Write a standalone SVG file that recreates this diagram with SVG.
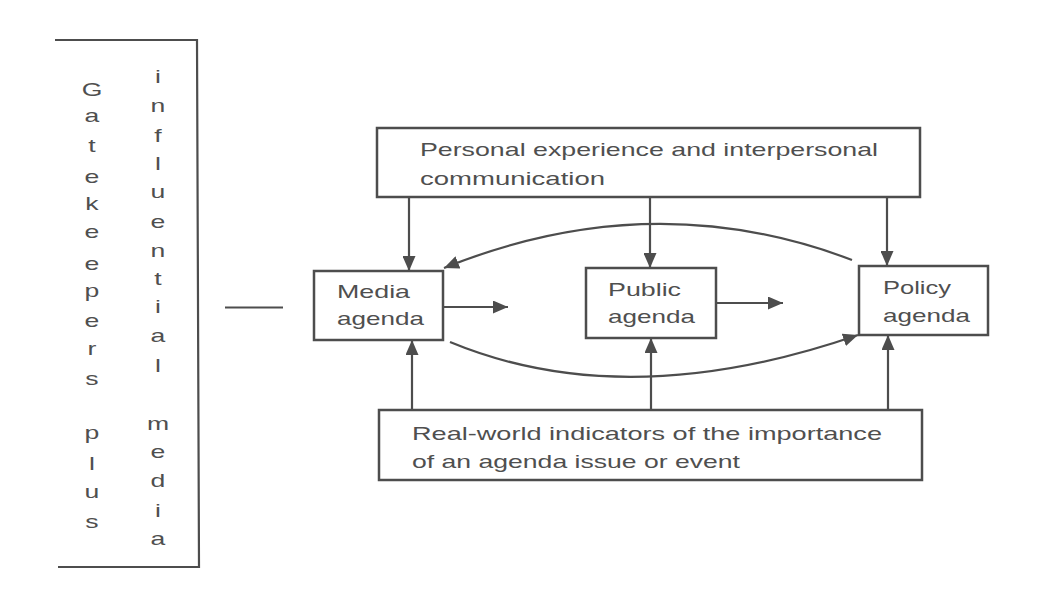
<svg xmlns="http://www.w3.org/2000/svg" width="1043" height="590" viewBox="0 0 1043 590">
<style>
.box{fill:#ffffff;stroke:#4d4d4d;stroke-width:2.5}
.ln{fill:none;stroke:#4d4d4d;stroke-width:2.2}
.t{font-family:"Liberation Sans",Arial,sans-serif;font-size:19px;fill:#4f4f4f}
</style>
<defs>
<marker id="ah" markerWidth="15" markerHeight="13" refX="15" refY="6.5" orient="auto" markerUnits="userSpaceOnUse">
<path d="M0,0 L15,6.5 L0,13 z" fill="#4d4d4d"/>
</marker>
</defs>
<rect x="0" y="0" width="1043" height="590" fill="#ffffff"/>

<g id="gatekeepers">
<path class="ln" d="M55,40 L197,40 L199,567 L58,567"/>
<text class="t" text-anchor="middle" transform="translate(92,0) scale(1.4,1)">
<tspan x="0" y="96">G</tspan><tspan x="0" y="122">a</tspan><tspan x="0" y="152">t</tspan><tspan x="0" y="183">e</tspan><tspan x="0" y="210">k</tspan><tspan x="0" y="238">e</tspan><tspan x="0" y="270">e</tspan><tspan x="0" y="297">p</tspan><tspan x="0" y="327">e</tspan><tspan x="0" y="355">r</tspan><tspan x="0" y="385">s</tspan><tspan x="0" y="439">p</tspan><tspan x="0" y="470">l</tspan><tspan x="0" y="498">u</tspan><tspan x="0" y="528">s</tspan>
</text>
<text class="t" text-anchor="middle" transform="translate(158,0) scale(1.4,1)">
<tspan x="0" y="83">i</tspan><tspan x="0" y="112">n</tspan><tspan x="0" y="142">f</tspan><tspan x="0" y="170">l</tspan><tspan x="0" y="198">u</tspan><tspan x="0" y="228">e</tspan><tspan x="0" y="257">n</tspan><tspan x="0" y="285">t</tspan><tspan x="0" y="313">i</tspan><tspan x="0" y="342">a</tspan><tspan x="0" y="372">l</tspan><tspan x="0" y="430">m</tspan><tspan x="0" y="458">e</tspan><tspan x="0" y="487">d</tspan><tspan x="0" y="517">i</tspan><tspan x="0" y="545">a</tspan>
</text>
</g>

<g id="personal">
<rect class="box" x="377" y="128" width="543" height="69"/>
<text class="t" x="420" y="156" textLength="458" lengthAdjust="spacingAndGlyphs">Personal experience and interpersonal</text>
<text class="t" x="420" y="185" textLength="185" lengthAdjust="spacingAndGlyphs">communication</text>
</g>

<g id="media">
<rect class="box" x="314" y="271" width="129" height="69"/>
<text class="t" x="337" y="298" textLength="73" lengthAdjust="spacingAndGlyphs">Media</text>
<text class="t" x="337" y="325" textLength="87" lengthAdjust="spacingAndGlyphs">agenda</text>
</g>

<g id="public">
<rect class="box" x="586" y="268" width="130" height="70"/>
<text class="t" x="608" y="296" textLength="73" lengthAdjust="spacingAndGlyphs">Public</text>
<text class="t" x="608" y="323" textLength="87" lengthAdjust="spacingAndGlyphs">agenda</text>
</g>

<g id="policy">
<rect class="box" x="859" y="266" width="129" height="69"/>
<text class="t" x="883" y="294" textLength="68" lengthAdjust="spacingAndGlyphs">Policy</text>
<text class="t" x="883" y="322" textLength="87" lengthAdjust="spacingAndGlyphs">agenda</text>
</g>

<g id="realworld">
<rect class="box" x="379" y="410" width="543" height="70"/>
<text class="t" x="412" y="440" textLength="470" lengthAdjust="spacingAndGlyphs">Real-world indicators of the importance</text>
<text class="t" x="412" y="468" textLength="328" lengthAdjust="spacingAndGlyphs">of an agenda issue or event</text>
</g>

<g id="connectors">
<line class="ln" x1="225" y1="307.5" x2="283" y2="307.5"/>
<line class="ln" x1="409" y1="197" x2="409" y2="271" marker-end="url(#ah)"/>
<line class="ln" x1="650" y1="197" x2="650" y2="268" marker-end="url(#ah)"/>
<line class="ln" x1="887" y1="197" x2="887" y2="266" marker-end="url(#ah)"/>
<line class="ln" x1="412" y1="410" x2="412" y2="340" marker-end="url(#ah)"/>
<line class="ln" x1="651" y1="410" x2="651" y2="338" marker-end="url(#ah)"/>
<line class="ln" x1="888" y1="410" x2="888" y2="335" marker-end="url(#ah)"/>
<line class="ln" x1="443" y1="307" x2="508" y2="307" marker-end="url(#ah)"/>
<line class="ln" x1="716" y1="303" x2="783" y2="303" marker-end="url(#ah)"/>
<path class="ln" d="M852,260 Q652,184 444,268" marker-end="url(#ah)"/>
<path class="ln" d="M450,342 Q626,415 858,335" marker-end="url(#ah)"/>
</g>
</svg>
